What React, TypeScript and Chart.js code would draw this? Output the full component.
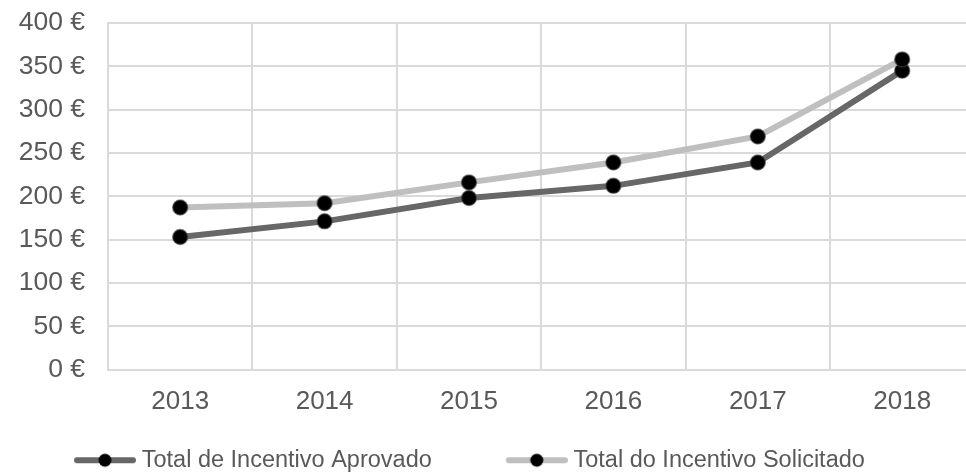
import React, { useEffect, useRef } from "react";
import { Chart, registerables } from "chart.js";

Chart.register(...registerables);

const years = ["2013", "2014", "2015", "2016", "2017", "2018"];
const aprovado = [153, 171, 198, 212, 239, 345];
const solicitado = [187, 192, 216, 239, 269, 358];
const seriesNames = ["Total de Incentivo Aprovado", "Total do Incentivo Solicitado"];
const seriesColors = ["#676767", "#bfbfbf"];

const FONT = "'Liberation Sans', Arial, sans-serif";
const TEXT = "#595959";
const GRID = "#dadada";

const LEG_FONT = 23.5;
const LEG_PAD = 9;
const LEG_BOX = 121;

function legendImage(color: string): HTMLCanvasElement {
  const w = Math.round(LEG_BOX + LEG_FONT - 12);
  const h = 18;
  const c = document.createElement("canvas");
  c.width = w;
  c.height = h;
  const ctx = c.getContext("2d")!;
  ctx.strokeStyle = color;
  ctx.lineWidth = 6;
  ctx.lineCap = "round";
  ctx.beginPath();
  ctx.moveTo(w - 62 + 3, h / 2);
  ctx.lineTo(w - 3, h / 2);
  ctx.stroke();
  ctx.fillStyle = "#000";
  ctx.beginPath();
  ctx.arc(w - 31, h / 2, 6.5, 0, Math.PI * 2);
  ctx.fill();
  return c;
}

export default function App() {
  const ref = useRef<HTMLCanvasElement | null>(null);
  useEffect(() => {
    if (!ref.current) return;
    const imgs = seriesColors.map(legendImage);
    const chart = new Chart(ref.current, {
      type: "line",
      data: {
        labels: years,
        datasets: [
          {
            label: seriesNames[0],
            data: aprovado,
            borderColor: seriesColors[0],
            backgroundColor: seriesColors[0],
            borderWidth: 6,
            pointRadius: 7.5,
            pointBackgroundColor: "#000",
            pointBorderColor: "rgba(70,70,70,0.6)",
            pointBorderWidth: 1.5,
            tension: 0,
            order: 1,
          },
          {
            label: seriesNames[1],
            data: solicitado,
            borderColor: seriesColors[1],
            backgroundColor: seriesColors[1],
            borderWidth: 6,
            pointRadius: 7.5,
            pointBackgroundColor: "#000",
            pointBorderColor: "rgba(70,70,70,0.6)",
            pointBorderWidth: 1.5,
            tension: 0,
            order: 0,
          },
        ],
      },
      options: {
        animation: false,
        responsive: false,
        maintainAspectRatio: false,
        layout: { padding: { top: 23, right: 15.6, left: 0, bottom: 0 } },
        plugins: {
          tooltip: { enabled: false },
          legend: {
            position: "bottom",
            align: "start",
            labels: {
              usePointStyle: true,
              pointStyleWidth: LEG_BOX,
              padding: LEG_PAD,
              color: TEXT,
              font: { family: FONT, size: LEG_FONT },
              generateLabels: (c: any) => {
                const items = Chart.defaults.plugins.legend.labels.generateLabels(c);
                items.forEach((it: any) => {
                  it.pointStyle = imgs[it.datasetIndex];
                });
                return items.sort((a: any, b: any) => a.datasetIndex - b.datasetIndex);
              },
            },
          },
        },
        scales: {
          x: {
            offset: true,
            grid: { offset: true, color: GRID, lineWidth: 2, drawTicks: false },
            border: { color: GRID, width: 2 },
            ticks: { color: TEXT, font: { family: FONT, size: 26 }, padding: 17 },
            afterFit: (s: any) => {
              s.height = 70;
            },
          },
          y: {
            min: 0,
            max: 400,
            grid: { color: GRID, lineWidth: 2, drawTicks: false },
            border: { color: GRID, width: 2 },
            ticks: {
              stepSize: 50,
              color: TEXT,
              font: { family: FONT, size: 26.5 },
              padding: 23,
              callback: (v: any) => `${v} €`,
            },
            afterFit: (s: any) => {
              s.width = 108;
              s.paddingTop = 0;
              s.paddingBottom = 0;
            },
          },
        },
      },
    });
    return () => chart.destroy();
  }, []);
  return (
    <div style={{ position: "absolute", left: 0, top: 0, width: 966, height: 475, overflow: "hidden", background: "#fff" }}>
      <canvas ref={ref} width={990} height={482} style={{ display: "block" }} />
    </div>
  );
}
